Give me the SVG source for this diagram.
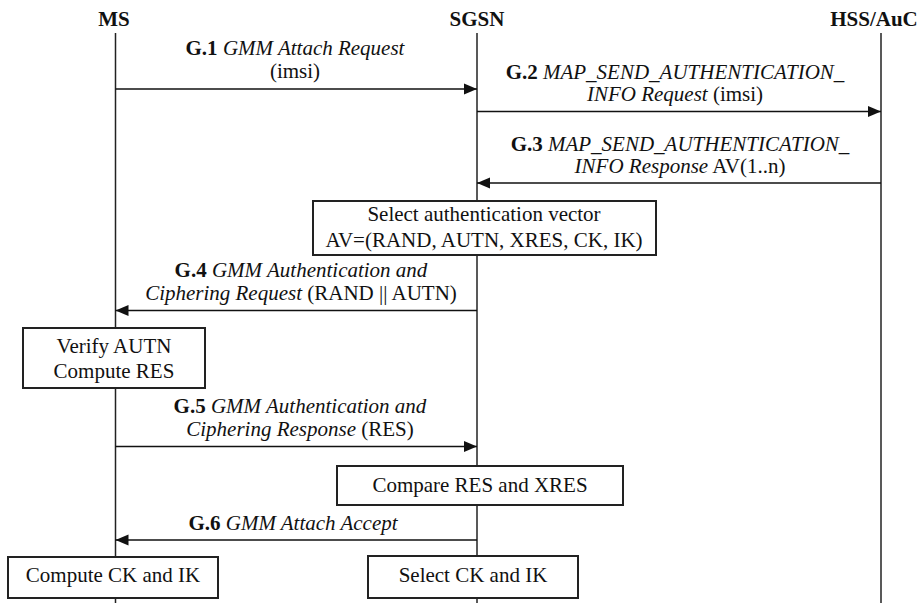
<svg xmlns="http://www.w3.org/2000/svg" width="922" height="603" viewBox="0 0 922 603" font-family="'Liberation Serif', 'DejaVu Serif', serif">
  <style>
    text { font-family: 'Liberation Serif', 'DejaVu Serif', serif; font-size: 21px; fill: #111; text-anchor: middle; }
    .hdr { font-weight: bold; }
    .b { font-weight: bold; }
    .i { font-style: italic; }
    .life { stroke: #222; stroke-width: 1.5; fill: none; }
    .msg { stroke: #111; stroke-width: 1.5; fill: none; marker-end: url(#arrow); }
    .box rect { fill: #fff; stroke: #222; stroke-width: 2; }
  </style>
  <defs>
    <marker id="arrow" markerUnits="userSpaceOnUse" markerWidth="14" markerHeight="12" refX="13" refY="6" orient="auto">
      <path d="M0,0.5 L13,6 L0,11.5 Z" fill="#111"/>
    </marker>
  </defs>

  <!-- lifelines and their headers -->
  <g id="MS">
    <text class="hdr" x="114" y="26">MS</text>
    <line class="life" x1="115.5" y1="33" x2="115.5" y2="603"/>
  </g>
  <g id="SGSN">
    <text class="hdr" x="477" y="26">SGSN</text>
    <line class="life" x1="477" y1="33" x2="477" y2="603"/>
  </g>
  <g id="HSS">
    <text class="hdr" x="874" y="26">HSS/AuC</text>
    <line class="life" x1="881" y1="33" x2="881" y2="603"/>
  </g>

  <!-- messages -->
  <g id="messages">
    <line class="msg" x1="115.5" y1="89" x2="477" y2="89"/>
    <line class="msg" x1="477" y1="111.5" x2="881" y2="111.5"/>
    <line class="msg" x1="881" y1="183" x2="477" y2="183"/>
    <line class="msg" x1="477" y1="310.5" x2="115.5" y2="310.5"/>
    <line class="msg" x1="115.5" y1="446.5" x2="477" y2="446.5"/>
    <line class="msg" x1="477" y1="540" x2="115.5" y2="540"/>
  </g>

  <g id="labels">
    <text x="295" y="55"><tspan class="b">G.1</tspan> <tspan class="i">GMM Attach Request</tspan></text>
    <text x="295" y="78">(imsi)</text>

    <text x="675" y="79"><tspan class="b">G.2</tspan> <tspan class="i">MAP_SEND_AUTHENTICATION_</tspan></text>
    <text x="675" y="101"><tspan class="i">INFO Request</tspan> (imsi)</text>

    <text x="680" y="151"><tspan class="b">G.3</tspan> <tspan class="i">MAP_SEND_AUTHENTICATION_</tspan></text>
    <text x="680" y="173"><tspan class="i">INFO Response</tspan> AV(1..n)</text>

    <text x="301" y="277"><tspan class="b">G.4</tspan> <tspan class="i">GMM Authentication and</tspan></text>
    <text x="301" y="299.5"><tspan class="i">Ciphering Request</tspan> (RAND || AUTN)</text>

    <text x="300" y="413"><tspan class="b">G.5</tspan> <tspan class="i">GMM Authentication and</tspan></text>
    <text x="300" y="435.5"><tspan class="i">Ciphering Response</tspan> (RES)</text>

    <text x="293" y="529.5"><tspan class="b">G.6</tspan> <tspan class="i">GMM Attach Accept</tspan></text>
  </g>

  <!-- processing boxes -->
  <g id="select-av" class="box">
    <rect x="313" y="201" width="343" height="54"/>
    <text x="484" y="221">Select authentication vector</text>
    <text x="484" y="246.5">AV=(RAND, AUTN, XRES, CK, IK)</text>
  </g>
  <g id="verify-autn" class="box">
    <rect x="23" y="328" width="182" height="60"/>
    <text x="114" y="353">Verify AUTN</text>
    <text x="114" y="378">Compute RES</text>
  </g>
  <g id="compare-res" class="box">
    <rect x="337" y="466" width="286" height="39"/>
    <text x="480" y="492">Compare RES and XRES</text>
  </g>
  <g id="compute-ck" class="box">
    <rect x="8" y="557" width="210" height="41"/>
    <text x="113" y="582">Compute CK and IK</text>
  </g>
  <g id="select-ck" class="box">
    <rect x="368" y="556" width="210" height="42"/>
    <text x="473" y="582">Select CK and IK</text>
  </g>
</svg>
